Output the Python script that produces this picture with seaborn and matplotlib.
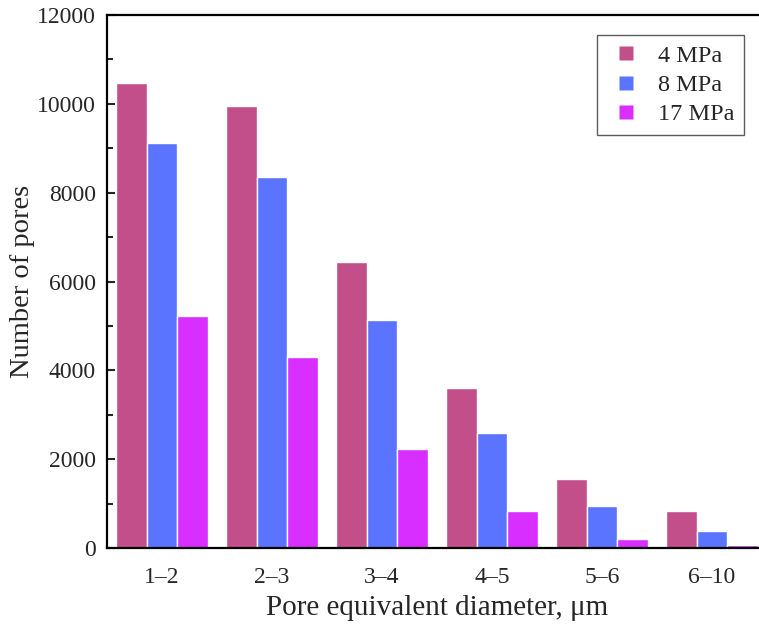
import matplotlib
matplotlib.use("Agg")
import matplotlib.pyplot as plt
import seaborn as sns
import pandas as pd
from matplotlib.ticker import MultipleLocator
from matplotlib.lines import Line2D

categories = ["1\u20132", "2\u20133", "3\u20134", "4\u20135", "5\u20136", "6\u201310"]
series_names = ["4 MPa", "8 MPa", "17 MPa"]
vals_4 = [10480, 9940, 6450, 3600, 1560, 830]
vals_8 = [9120, 8350, 5140, 2590, 950, 390]
vals_17 = [5220, 4310, 2240, 830, 200, 60]
colors = ["#C24F8A", "#5A74FF", "#D82EFF"]

rows = []
for name, vals in zip(series_names, [vals_4, vals_8, vals_17]):
    for c, v in zip(categories, vals):
        rows.append({"cat": c, "series": name, "value": v})
df = pd.DataFrame(rows)

sns.set_style("white")
plt.rcParams["font.family"] = ["Liberation Serif", "DejaVu Serif"]

fig = plt.figure(figsize=(7.59, 6.30), dpi=100)
W, H = 759, 630
ax = fig.add_axes([107 / W, (630 - 548) / H, (767 - 107) / W, (548 - 15) / H])

sns.barplot(data=df, x="cat", y="value", hue="series", palette=colors,
            width=0.84, edgecolor="white", linewidth=1.0, ax=ax,
            saturation=1, errorbar=None, legend=False)

ax.set_xlim(-0.5, 5.5)
ax.set_ylim(0, 12000)
ax.yaxis.set_major_locator(MultipleLocator(2000))
ax.yaxis.set_minor_locator(MultipleLocator(1000))
ax.tick_params(axis="y", which="major", direction="in", length=6, width=1.5,
               labelsize=17, pad=8, left=True)
ax.tick_params(axis="y", which="minor", direction="in", length=4, width=1.5, left=True)
ax.tick_params(axis="x", length=0, labelsize=17, pad=14)

for s in ["left", "bottom", "top"]:
    ax.spines[s].set_visible(True)
    ax.spines[s].set_color("black")
    ax.spines[s].set_linewidth(1.6)
ax.spines["right"].set_visible(False)

ax.set_xlabel("Pore equivalent diameter, \u03bcm", fontsize=21, labelpad=5)
ax.set_ylabel("Number of pores", fontsize=20.5)
ax.yaxis.set_label_coords((35 - 107) / (767 - 107), 0.5)

handles = [Line2D([], [], linestyle="none", marker="s", markersize=10.5,
                  markerfacecolor=c, markeredgecolor="none") for c in colors]
leg = ax.legend(handles, series_names,
                loc="upper left", bbox_to_anchor=((597 - 107) / (767 - 107), (548 - 35) / (548 - 15)),
                fontsize=17.5, frameon=True, fancybox=False, edgecolor="#333333",
                handlelength=1.6, handletextpad=0.5,
                borderpad=0.4, labelspacing=0.3, borderaxespad=0)
leg.get_frame().set_linewidth(1.0)

fig.savefig("out.png", dpi=100)
